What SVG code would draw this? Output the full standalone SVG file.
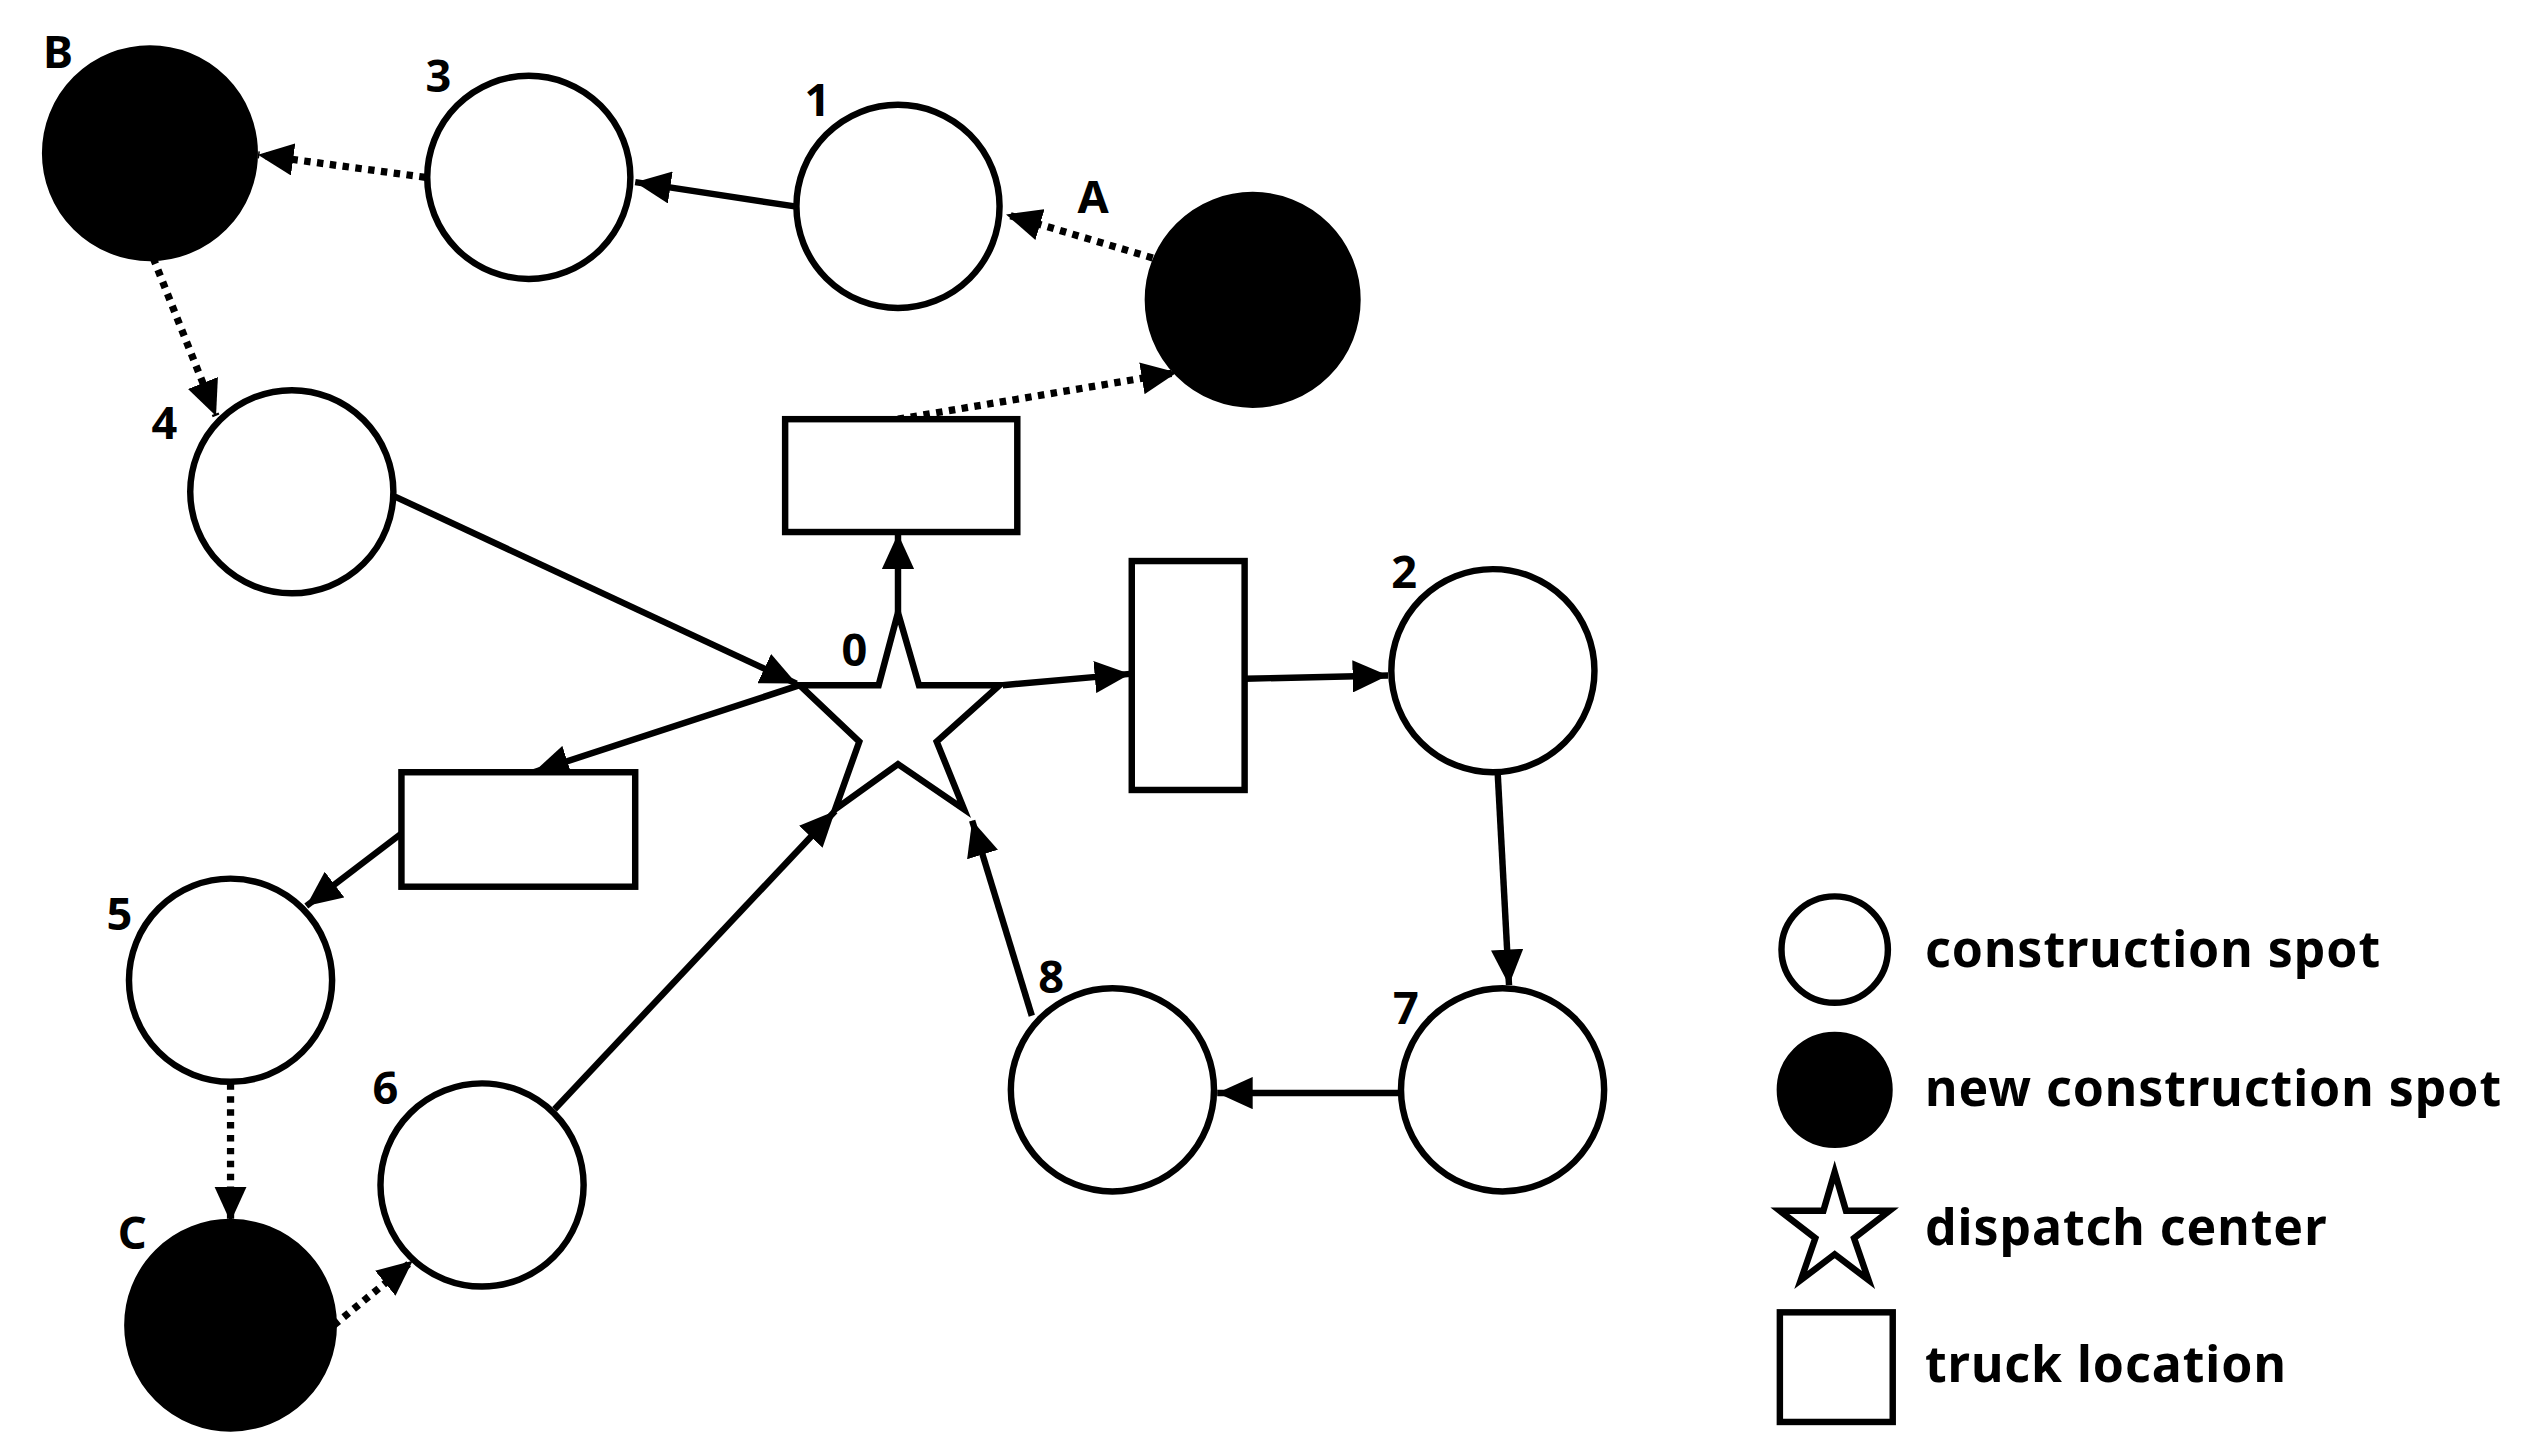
<svg xmlns="http://www.w3.org/2000/svg" width="2528" height="1456" viewBox="0 0 2528 1456">
<defs>
<style>
.n{fill:#fff;stroke:#000;stroke-width:4}
.f{fill:#000;stroke:#000;stroke-width:4}
.e{stroke:#000;stroke-width:4;fill:none;marker-end:url(#ah)}
.d{stroke:#000;stroke-width:4.5;stroke-dasharray:4 4;fill:none;marker-end:url(#ah)}
text{font-family:"Noto Sans","DejaVu Sans",sans-serif;font-weight:bold;fill:#000}
.l{font-size:28px;text-anchor:middle}
.g{font-size:31px;letter-spacing:0.6px}
</style>
<marker id="ah" markerUnits="userSpaceOnUse" markerWidth="24" markerHeight="20" refX="22" refY="10" orient="auto">
<path d="M0,0 L22,10 L0,20 Z" fill="#000"/>
</marker>
</defs>
<rect width="2528" height="1456" fill="#fff"/>
<g transform="scale(1.6122)">
<g id="connectors">
<line class="d" x1="264" y1="110" x2="160" y2="96"/>
<line class="e" x1="493" y1="128" x2="394" y2="113"/>
<line class="d" x1="715" y1="160" x2="624" y2="133"/>
<line class="d" x1="557" y1="260" x2="730" y2="231"/>
<line class="d" x1="95" y1="160" x2="134" y2="258"/>
<line class="e" x1="245" y1="308" x2="494" y2="424"/>
<line class="e" x1="557" y1="380" x2="557" y2="331"/>
<line class="e" x1="622" y1="425" x2="701" y2="418"/>
<line class="e" x1="772" y1="421" x2="861" y2="419"/>
<line class="e" x1="929" y1="480" x2="936" y2="611"/>
<line class="e" x1="868" y1="678" x2="755" y2="678"/>
<line class="e" x1="640" y1="630" x2="603" y2="509"/>
<line class="e" x1="496" y1="425" x2="331" y2="479"/>
<line class="e" x1="249" y1="517" x2="190" y2="562"/>
<line class="d" x1="143" y1="672" x2="143" y2="758"/>
<line class="d" x1="207" y1="822" x2="256" y2="782"/>
<line class="e" x1="344" y1="688" x2="518" y2="503"/>
</g>
<g id="nB"><circle class="f" cx="93" cy="95" r="65"/><text class="l" x="36" y="42">B</text></g>
<g id="n3"><circle class="n" cx="328" cy="110" r="63"/><text class="l" x="272" y="57">3</text></g>
<g id="n1"><circle class="n" cx="557" cy="128" r="63"/><text class="l" x="507" y="72">1</text></g>
<g id="nA"><circle class="f" cx="777" cy="186" r="65"/><text class="l" x="678" y="132">A</text></g>
<g id="n4"><circle class="n" cx="181" cy="305" r="63"/><text class="l" x="102" y="272">4</text></g>
<g id="n2"><circle class="n" cx="926" cy="416" r="63"/><text class="l" x="871" y="365">2</text></g>
<g id="n5"><circle class="n" cx="143" cy="608" r="63"/><text class="l" x="74" y="577">5</text></g>
<g id="n6"><circle class="n" cx="299" cy="735" r="63"/><text class="l" x="239" y="685">6</text></g>
<g id="n8"><circle class="n" cx="690" cy="676" r="63"/><text class="l" x="652" y="616">8</text></g>
<g id="n7"><circle class="n" cx="932" cy="676" r="63"/><text class="l" x="872" y="635">7</text></g>
<g id="nC"><circle class="f" cx="143" cy="822" r="64"/><text class="l" x="82" y="775">C</text></g>
<g id="n0"><polygon class="n" points="557,380 570,425 620,425 581,460 598,502 557,474 518,502 533,460 496,425 545,425"/><text class="l" x="530" y="413">0</text></g>
<g id="tTop"><rect class="n" x="487" y="260" width="144" height="70"/></g>
<g id="tRight"><rect class="n" x="702" y="348" width="70" height="142"/></g>
<g id="tLeft"><rect class="n" x="249" y="479" width="145" height="71"/></g>
<g id="legend">
<circle class="n" cx="1138" cy="589" r="33"/><text class="g" x="1194" y="600">construction spot</text>
<circle class="f" cx="1138" cy="676" r="34"/><text class="g" x="1194" y="686">new construction spot</text>
<polygon class="n" points="1138,727 1145,751 1172,751 1150,768 1159,794 1138,778 1117,794 1126,768 1104,751 1131,751"/><text class="g" x="1194" y="772">dispatch center</text>
<rect class="n" x="1104" y="814" width="70" height="68"/><text class="g" x="1194" y="857">truck location</text>
</g>
</g>
</svg>
